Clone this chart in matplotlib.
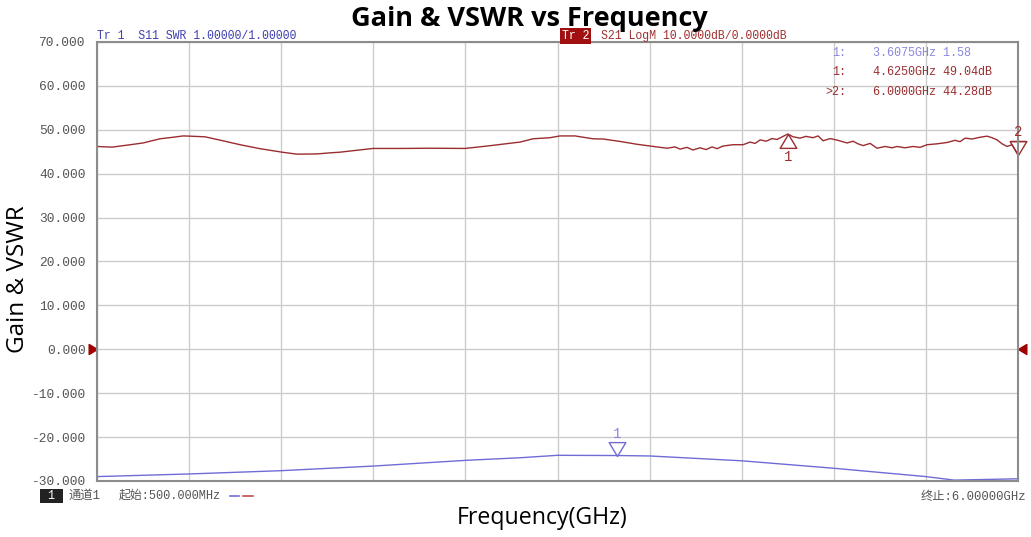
import numpy as np
import matplotlib.pyplot as plt
from matplotlib.path import Path

# S21 gain trace (dB)
gain_freq = [0.500, 0.590, 0.679, 0.775, 0.876, 0.954, 1.014, 1.055, 1.145, 1.252,
             1.354, 1.473, 1.605, 1.694, 1.814, 1.891, 1.951, 2.148, 2.327, 2.489,
             2.698, 2.829, 3.026, 3.104, 3.205, 3.265, 3.355, 3.462, 3.522, 3.623,
             3.725, 3.803, 3.904, 3.952, 3.982, 4.023, 4.059, 4.101, 4.137, 4.173,
             4.203, 4.238, 4.298, 4.358, 4.400, 4.430, 4.460, 4.496, 4.531, 4.561,
             4.625, 4.657, 4.698, 4.734, 4.776, 4.806, 4.836, 4.878, 4.925, 4.979,
             5.015, 5.045, 5.075, 5.117, 5.158, 5.206, 5.248, 5.278, 5.325, 5.373,
             5.415, 5.457, 5.516, 5.576, 5.624, 5.654, 5.684, 5.726, 5.773, 5.815,
             5.845, 5.875, 5.905, 5.935, 5.964, 6.000]
gain_db = [46.2, 46.05, 46.5, 47.0, 47.95, 48.3, 48.6, 48.55, 48.4, 47.5,
           46.6, 45.7, 44.9, 44.45, 44.5, 44.75, 44.9, 45.75, 45.75, 45.8,
           45.75, 46.3, 47.2, 47.95, 48.2, 48.6, 48.6, 47.95, 47.9, 47.35,
           46.7, 46.3, 45.8, 46.1, 45.6, 46.0, 45.4, 45.9, 45.5, 46.1,
           45.7, 46.3, 46.6, 46.6, 47.2, 46.9, 47.7, 47.4, 48.0, 47.8,
           49.04, 48.4, 48.1, 48.5, 48.2, 48.6, 47.5, 48.0, 47.6, 47.0,
           47.4, 46.8, 46.4, 46.9, 45.8, 46.2, 45.9, 46.2, 45.9, 46.2,
           46.0, 46.6, 46.8, 47.1, 47.6, 47.3, 48.1, 47.9, 48.3, 48.55,
           48.2, 47.7, 46.8, 46.2, 46.6, 44.28]

# S11 SWR trace, in the screen's divisions
swr_freq = [0.5, 1.05, 1.6, 2.15, 2.7, 3.03, 3.25, 3.6075, 3.8, 4.35, 4.9, 5.45, 5.62, 6.0]
swr_val = [-29.0, -28.4, -27.65, -26.6, -25.3, -24.7, -24.15, -24.2, -24.3, -25.4,
           -27.1, -29.0, -29.8, -29.5]

y_ticks = [70, 60, 50, 40, 30, 20, 10, 0, -10, -20, -30]
y_labels = ['70.000', '60.000', '50.000', '40.000', '30.000', '20.000', '10.000',
            '0.000', '-10.000', '-20.000', '-30.000']

marker_rows = [('1:', '3.6075GHz 1.58'), ('1:', '4.6250GHz 49.04dB'), ('>2:', '6.0000GHz 44.28dB')]

RED = '#9b2d30'
DARK_RED = '#a00000'
BLUE = '#6f6cd6'
LIGHT_BLUE = '#8a86e0'
GRAY = '#555555'
MONO = ['Liberation Mono', 'Noto Sans CJK SC']

tri_up = Path([(0, 0), (-0.6, -1), (0.6, -1), (0, 0)])
tri_down = Path([(0, 0), (-0.6, 1), (0.6, 1), (0, 0)])
tri_right = Path([(0, 0), (-1, 0.6), (-1, -0.6), (0, 0)])
tri_left = Path([(0, 0), (1, 0.6), (1, -0.6), (0, 0)])

fig = plt.figure(figsize=(10.31, 5.37), dpi=100)
ax = fig.add_axes([0.0941, 0.1043, 0.8933, 0.8175])

ax.plot(swr_freq, swr_val, color=BLUE, lw=1.0)
ax.plot(gain_freq, gain_db, color=RED, lw=1.0)

ax.set_xlim(0.5, 6.0)
ax.set_ylim(-30, 70)
ax.set_xticks(np.linspace(0.5, 6.0, 11))
ax.set_xticklabels([])
ax.set_yticks(y_ticks)
ax.set_yticklabels(y_labels, family=MONO, fontsize=9.3, color=GRAY)
ax.tick_params(length=0, pad=8)
ax.grid(color='#cccccc', lw=1.0)
for sp in ax.spines.values():
    sp.set_color('#8c8c8c')
    sp.set_linewidth(1.5)

# markers
ax.plot([4.625], [49.04], marker=tri_up, ms=20, mfc='none', mec=RED, mew=1.0, clip_on=False)
ax.text(4.625, 43.8, '1', color=RED, fontsize=10, family=MONO, ha='center', va='center')
ax.plot([6.0], [44.28], marker=tri_down, ms=20, mfc='none', mec=RED, mew=1.0, clip_on=False)
ax.plot([5.961, 6.039], [47.5, 47.5], color=RED, lw=1.0, clip_on=False)
ax.text(6.0, 49.4, '2', color=RED, fontsize=10, family=MONO, ha='center', va='center')
ax.plot([3.6075], [-24.2], marker=tri_down, ms=20, mfc='none', mec=BLUE, mew=1.0)
ax.text(3.6075, -19.2, '1', color=LIGHT_BLUE, fontsize=10, family=MONO, ha='center', va='center')

# reference level arrows
ax.plot([0.5], [0], marker=tri_right, ms=12, color=DARK_RED, clip_on=False)
ax.plot([6.0], [0], marker=tri_left, ms=12, color=DARK_RED, clip_on=False)

# marker readout table
for i, (lab, val) in enumerate(marker_rows):
    col = LIGHT_BLUE if i == 0 else RED
    y = 1 - (53 + 19.5 * i) / 537
    fig.text(846 / 1031, y, lab, color=col, fontsize=8.5, family=MONO, ha='right', va='center')
    fig.text(873 / 1031, y, val, color=col, fontsize=8.5, family=MONO, ha='left', va='center')

# trace headers
fig.text(97 / 1031, 1 - 36 / 537, 'Tr 1  S11 SWR 1.00000/1.00000', color='#4040b0',
         fontsize=8.3, family=MONO, va='center')
fig.text(562 / 1031, 1 - 36 / 537, 'Tr 2', color='white', fontsize=8.3, family=MONO, va='center',
         bbox=dict(boxstyle='square,pad=0.15', fc='#a01010', ec='none'))
fig.text(601 / 1031, 1 - 36 / 537, 'S21 LogM 10.0000dB/0.0000dB', color='#a03030',
         fontsize=8.3, family=MONO, va='center')

# footer
fig.text(41 / 1031, 1 - 496 / 537, ' 1 ', color='white', fontsize=8.5, family=MONO, va='center',
         bbox=dict(boxstyle='square,pad=0.1', fc='#222222', ec='none'))
fig.text(69 / 1031, 1 - 496 / 537, '通道1', color=GRAY, fontsize=8.8, family=MONO, va='center')
fig.text(119 / 1031, 1 - 496 / 537, '起始:500.000MHz', color=GRAY, fontsize=8.6,
         family=MONO, va='center')
fig.lines.append(plt.Line2D([230 / 1031, 239 / 1031], [1 - 496 / 537] * 2, color=BLUE, lw=1.2,
                            transform=fig.transFigure))
fig.lines.append(plt.Line2D([243 / 1031, 253 / 1031], [1 - 496 / 537] * 2, color='#c05050', lw=1.2,
                            transform=fig.transFigure))
fig.text(1026 / 1031, 1 - 497 / 537, '终止:6.00000GHz', color=GRAY, fontsize=8.8,
         family=MONO, ha='right', va='center')

# chart titles
fig.text(529 / 1031, 1 - 19 / 537, 'Gain & VSWR vs Frequency', fontsize=19.5, fontweight='bold',
         family='Open Sans', ha='center', va='center')
fig.text(18 / 1031, 1 - 279 / 537, 'Gain & VSWR', fontsize=17.5, family='Open Sans',
         rotation=90, ha='center', va='center')
fig.text(542 / 1031, 1 - 518 / 537, 'Frequency(GHz)', fontsize=16.7, family='Open Sans',
         ha='center', va='center')

fig.savefig('out.png', dpi=100)
